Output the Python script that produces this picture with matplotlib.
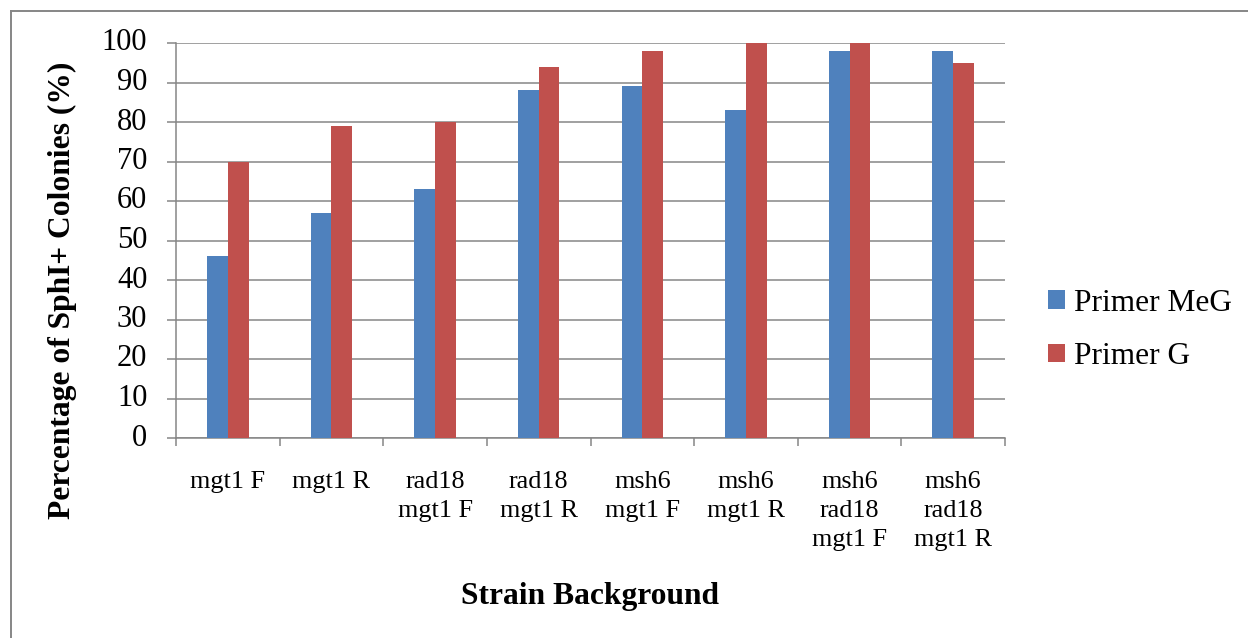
import matplotlib
matplotlib.use("Agg")
import matplotlib.pyplot as plt
import numpy as np
from matplotlib.lines import Line2D
from matplotlib.patches import Patch

# Strain backgrounds and measured SphI+ colony percentages
strains = [
    "mgt1 F", "mgt1 R", "rad18\nmgt1 F", "rad18\nmgt1 R",
    "msh6\nmgt1 F", "msh6\nmgt1 R", "msh6\nrad18\nmgt1 F", "msh6\nrad18\nmgt1 R",
]
primer_meg = [46, 57, 63, 88, 89, 83, 98, 98]
primer_g = [70, 79, 80, 94, 98, 100, 100, 95]
series_names = ["Primer MeG", "Primer G"]
y_ticks = list(range(0, 101, 10))

BLUE = "#4F81BD"
RED = "#C0504D"
GRID = "#868686"
SERIF = ["Liberation Serif", "DejaVu Serif"]

plt.rcParams["font.family"] = SERIF

W, H = 1248, 638
fig = plt.figure(figsize=(W / 100, H / 100), dpi=100)
fig.patch.set_facecolor("white")

ax = fig.add_axes([176 / W, 1 - 438 / H, (1005 - 176) / W, (438 - 43) / H])

x = np.arange(len(strains))
bw = 0.2
ax.bar(x - bw / 2, primer_meg, width=bw, color=BLUE, linewidth=0, zorder=3)
ax.bar(x + bw / 2, primer_g, width=bw, color=RED, linewidth=0, zorder=3)

ax.set_xlim(-0.5, len(strains) - 0.5)
ax.set_ylim(0, 100)

# horizontal gridlines
ax.set_yticks(y_ticks)
ax.yaxis.grid(True, color=GRID, linewidth=1.1, zorder=1)
ax.set_axisbelow(True)

for side in ("top", "right"):
    ax.spines[side].set_visible(False)
for side in ("left", "bottom"):
    ax.spines[side].set_color(GRID)
    ax.spines[side].set_linewidth(1.1)

ax.tick_params(axis="y", which="major", direction="out", length=6.5,
               width=1.1, color=GRID, pad=14.2, labelsize=22)
for lbl in ax.get_yticklabels():
    lbl.set_verticalalignment("center")

# category labels at centres, tick marks at category boundaries
ax.set_xticks(x)
ax.set_xticklabels(strains, fontsize=18.8, linespacing=1.42,
                   multialignment="center")
ax.set_xticks(np.arange(-0.5, len(strains), 1.0), minor=True)
ax.tick_params(axis="x", which="major", length=0, pad=23.5)
ax.tick_params(axis="x", which="minor", direction="out", length=6,
               width=1.1, color=GRID)

# axis titles
fig.text(62 / W, 1 - 290 / H, "Percentage of SphI+ Colonies (%)",
         rotation=90, ha="center", va="center", fontsize=22.7,
         fontweight="bold")
fig.text(590 / W, 1 - 604 / H, "Strain Background", ha="center",
         va="baseline", fontsize=22.7, fontweight="bold")

# legend
handles = [Patch(facecolor=BLUE, edgecolor="none"),
           Patch(facecolor=RED, edgecolor="none")]
fig.legend(handles, series_names, loc="center left",
           bbox_to_anchor=(1048 / W, 1 - 330 / H), frameon=False,
           fontsize=22.6, handlelength=0.53, handleheight=0.53,
           handletextpad=0.3, labelspacing=0.78, borderpad=0,
           borderaxespad=0)

# outer chart frame
fig.add_artist(Line2D([11 / W, 11 / W], [1 - 11 / H, -0.05], color=GRID,
                      linewidth=1.4, transform=fig.transFigure))
fig.add_artist(Line2D([11 / W, 1.05], [1 - 11 / H, 1 - 11 / H], color=GRID,
                      linewidth=1.4, transform=fig.transFigure))

fig.savefig("out.png", dpi=100, facecolor="white")
